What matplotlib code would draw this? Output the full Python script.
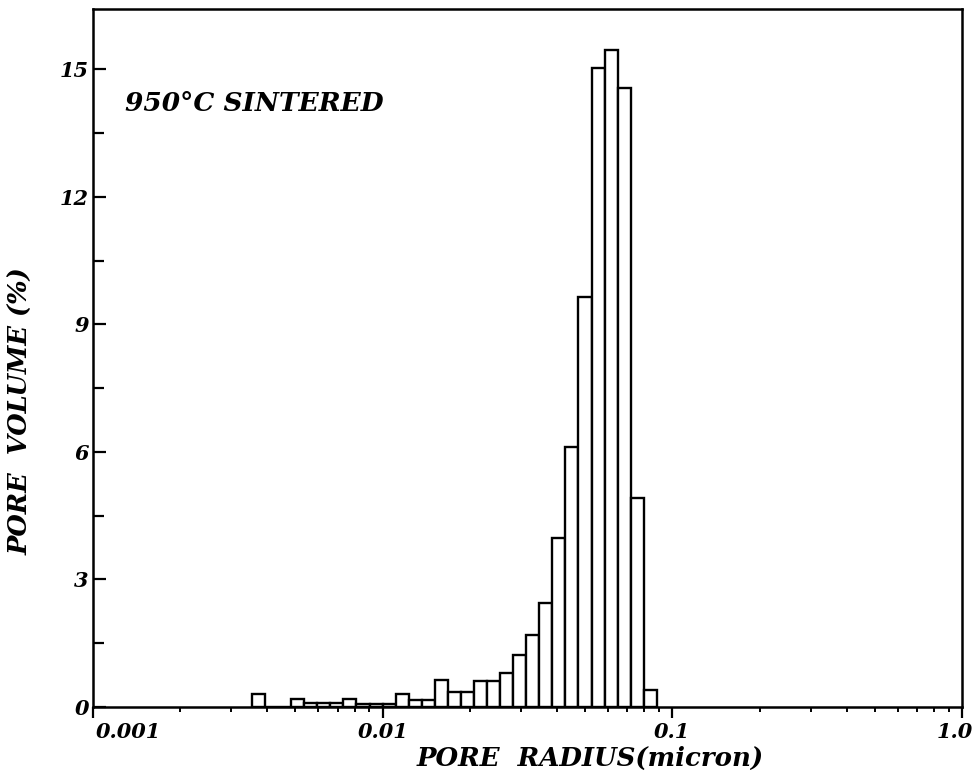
import matplotlib
matplotlib.use("Agg")
import matplotlib.pyplot as plt
import matplotlib.transforms as mtransforms
from matplotlib.ticker import FixedLocator, NullFormatter

# bin edges of pore radius (micron)
radioBordes = [0.00354, 0.00393, 0.00436, 0.00483, 0.00536, 0.00594, 0.00660, 0.00732,
               0.00812, 0.00901, 0.01000, 0.01109, 0.01230, 0.01365, 0.01514, 0.01679,
               0.01862, 0.02066, 0.02294, 0.02545, 0.02823, 0.03132, 0.03475, 0.03855,
               0.04276, 0.04743, 0.05262, 0.05837, 0.06475, 0.07189, 0.07975, 0.08851]

# pore volume (%) per bin
volumenPoro = [0.30, 0.0, 0.0, 0.19, 0.09, 0.09, 0.09, 0.19, 0.08, 0.08, 0.08,
               0.30, 0.17, 0.17, 0.64, 0.35, 0.35, 0.62, 0.60, 0.80, 1.22, 1.70,
               2.44, 3.98, 6.12, 9.65, 15.03, 15.46, 14.56, 4.91, 0.40]

xTicks = [0.001, 0.01, 0.1, 1.0]
xTickLabels = ["0.001", "0.01", "0.1", "1.0"]
yTicks = [0, 3, 6, 9, 12, 15]

fuente = {"family": "DejaVu Serif", "weight": "bold", "style": "italic"}

fig = plt.figure(figsize=(9.8, 7.77), dpi=100)
ax = fig.add_axes([0.0949, 0.0901, 0.8867, 0.8983])

izq = radioBordes[:-1]
anchos = [b - a for a, b in zip(radioBordes[:-1], radioBordes[1:])]
ax.bar(izq, volumenPoro, width=anchos, align="edge", color="white",
       edgecolor="black", linewidth=1.7)

ax.set_xscale("log")
ax.set_xlim(0.001, 1.0)
ax.set_ylim(0, 16.42)

for s in ax.spines.values():
    s.set_linewidth(1.8)

# x ticks
ax.xaxis.set_major_locator(FixedLocator(xTicks))
ax.set_xticklabels(xTickLabels, fontdict=fuente, fontsize=15)
ax.xaxis.set_minor_locator(FixedLocator([m * 10.0 ** e for e in (-3, -2, -1) for m in range(2, 10)]))
ax.xaxis.set_minor_formatter(NullFormatter())
ax.tick_params(axis="x", which="major", direction="out", length=8, width=1.6, pad=3)
ax.tick_params(axis="x", which="minor", direction="out", length=3.5, width=1.4)

# nudge first and last label like in the original
etiquetas = ax.get_xticklabels()
etiquetas[0].set_horizontalalignment("left")
etiquetas[0].set_transform(etiquetas[0].get_transform() +
                           mtransforms.ScaledTranslation(3 / 100, 0, fig.dpi_scale_trans))
etiquetas[-1].set_transform(etiquetas[-1].get_transform() +
                            mtransforms.ScaledTranslation(-7 / 100, 0, fig.dpi_scale_trans))

# y ticks
ax.set_yticks(yTicks)
ax.set_yticklabels([str(v) for v in yTicks], fontdict=fuente, fontsize=15)
ax.yaxis.set_minor_locator(FixedLocator([1.5, 4.5, 7.5, 10.5, 13.5]))
ax.tick_params(axis="y", which="major", direction="in", length=9, width=1.6, pad=3)
ax.tick_params(axis="y", which="minor", direction="in", length=8, width=1.6)

ax.set_xlabel("PORE  RADIUS(micron)", fontdict=fuente, fontsize=18.7)
ax.xaxis.set_label_coords(0.572, -0.056)
ax.set_ylabel("PORE  VOLUME (%)", fontdict=fuente, fontsize=18.5)
ax.yaxis.set_label_coords(-0.069, 0.424)

ax.text(0.037, 0.864, "950°C SINTERED", transform=ax.transAxes, fontdict=fuente,
        fontsize=19, ha="left", va="center")

plt.savefig("out.png", dpi=100)
